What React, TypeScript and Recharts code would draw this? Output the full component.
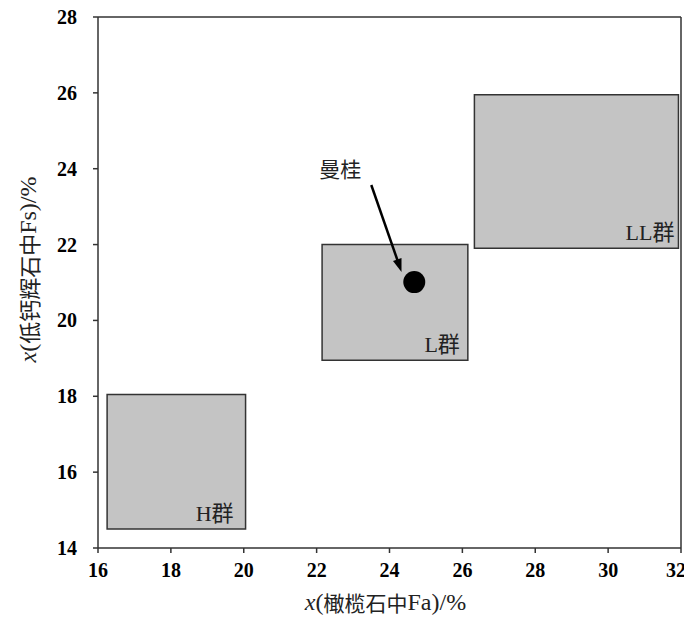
import React from "react";
import {
  ComposedChart,
  XAxis,
  YAxis,
  Scatter,
  ReferenceArea,
  ReferenceLine,
  Label,
} from "recharts";

// Data
const xTicks = [16, 18, 20, 22, 24, 26, 28, 30, 32];
const yTicks = [14, 16, 18, 20, 22, 24, 26, 28];
const groupNames = ["H群", "L群", "LL群"];
const groupFaMin = [16.25, 22.15, 26.33];
const groupFaMax = [20.05, 26.15, 31.93];
const groupFsMin = [14.5, 18.95, 21.9];
const groupFsMax = [18.05, 22.0, 25.95];
const meteoriteName = "曼桂";
const meteoritePoint = [{ fa: 24.68, fs: 21.01 }];
const arrowStart = { x: 23.5, y: 23.57 };
const arrowEnd = { x: 24.33, y: 21.28 };
const labelPos = { x: 22.65, y: 24.02 };

const serif = "'Liberation Serif', 'Noto Sans CJK SC', serif";
const cjk = "'Noto Sans CJK SC', serif";
const labelInset = [12, 8, 4];

const Arrow = (props: any) => {
  const { x1, y1, x2, y2 } = props;
  const dx = x2 - x1;
  const dy = y2 - y1;
  const len = Math.sqrt(dx * dx + dy * dy) || 1;
  const ux = dx / len;
  const uy = dy / len;
  const hl = 13;
  const hw = 4.5;
  const bx = x2 - ux * hl;
  const by = y2 - uy * hl;
  const px = -uy;
  const py = ux;
  return (
    <g>
      <line x1={x1} y1={y1} x2={bx + ux * 2} y2={by + uy * 2} stroke="#000" strokeWidth={2.5} />
      <polygon
        points={`${x2},${y2} ${bx + px * hw},${by + py * hw} ${bx - px * hw},${by - py * hw}`}
        fill="#000"
      />
    </g>
  );
};

const lastX = xTicks[xTicks.length - 1];

const XTick = (p: any) => {
  const isLast = p.payload.value === lastX;
  return (
    <text
      x={isLast ? p.x + 5 : p.x}
      y={p.y + 22}
      textAnchor={isLast ? "end" : "middle"}
      style={{ fontFamily: serif, fontWeight: 700, fontSize: 20 }}
      fill="#000"
    >
      {p.payload.value}
    </text>
  );
};

const YTick = (p: any) => (
  <text
    x={p.x - 14}
    y={p.y + 7}
    textAnchor="end"
    style={{ fontFamily: serif, fontWeight: 700, fontSize: 20 }}
    fill="#000"
  >
    {p.payload.value}
  </text>
);

export default function App() {
  return (
    <div style={{ width: 684, height: 616, marginBottom: -8 }}>
      <ComposedChart
        width={684}
        height={616}
        margin={{ top: 9, right: 11, bottom: 26, left: 0 }}
      >
        <XAxis
          type="number"
          dataKey="fa"
          domain={[16, 32]}
          ticks={xTicks}
          allowDataOverflow
          height={50}
          tickSize={5}
          axisLine={{ stroke: "#333", strokeWidth: 1.5 }}
          tickLine={{ stroke: "#333", strokeWidth: 1.5 }}
          tick={<XTick />}
        >
          <Label
            content={(p: any) => {
              const vb = p.viewBox;
              return (
                <text
                  x={vb.x + vb.width / 2 - 4}
                  y={vb.y + 54}
                  textAnchor="middle"
                  dominantBaseline="central"
                  style={{ fontFamily: serif, fontSize: 24 }}
                  fill="#222"
                >
                  <tspan fontStyle="italic">x</tspan>
                  <tspan>(</tspan>
                  <tspan style={{ fontFamily: cjk, fontSize: 21 }}>橄榄石中</tspan>
                  <tspan>Fa)/%</tspan>
                </text>
              );
            }}
          />
        </XAxis>
        <YAxis
          type="number"
          dataKey="fs"
          domain={[14, 28]}
          ticks={yTicks}
          allowDataOverflow
          width={90}
          tickSize={5}
          axisLine={{ stroke: "#333", strokeWidth: 1.5 }}
          tickLine={{ stroke: "#333", strokeWidth: 1.5 }}
          tick={<YTick />}
        >
          <Label
            content={(p: any) => {
              const vb = p.viewBox;
              const cx = 20;
              const cy = vb.y + vb.height / 2 - 13;
              return (
                <text
                  x={cx}
                  y={cy}
                  textAnchor="middle"
                  dominantBaseline="central"
                  style={{ fontFamily: serif, fontSize: 24 }}
                  fill="#222"
                  transform={`rotate(-90 ${cx} ${cy})`}
                >
                  <tspan fontStyle="italic">x</tspan>
                  <tspan>(</tspan>
                  <tspan style={{ fontFamily: cjk, fontSize: 22 }}>低钙辉石中</tspan>
                  <tspan>Fs)/%</tspan>
                </text>
              );
            }}
          />
        </YAxis>
        <ReferenceLine y={28} stroke="#333" strokeWidth={1.5} ifOverflow="visible" />
        <ReferenceLine x={32} stroke="#333" strokeWidth={1.5} ifOverflow="visible" />
        {groupNames.map((name, i) => (
          <ReferenceArea
            key={name}
            x1={groupFaMin[i]}
            x2={groupFaMax[i]}
            y1={groupFsMin[i]}
            y2={groupFsMax[i]}
            fill="#c4c4c4"
            fillOpacity={1}
            stroke="#333"
            strokeWidth={1.5}
            ifOverflow="visible"
            label={(p: any) => {
              const vb = p.viewBox;
              return (
                <text
                  x={vb.x + vb.width - labelInset[i]}
                  y={vb.y + vb.height - 8}
                  textAnchor="end"
                  style={{ fontFamily: serif, fontSize: 22 }}
                  fill="#222"
                >
                  {name}
                </text>
              );
            }}
          />
        ))}
        <ReferenceLine
          segment={[arrowStart, arrowEnd]}
          ifOverflow="visible"
          shape={(p: any) => <Arrow {...p} />}
        />
        <ReferenceLine
          segment={[labelPos, labelPos]}
          ifOverflow="visible"
          shape={(p: any) => (
            <text
              x={p.x1}
              y={p.y1}
              textAnchor="middle"
              dominantBaseline="central"
              style={{ fontFamily: cjk, fontSize: 21 }}
              fill="#222"
            >
              {meteoriteName}
            </text>
          )}
        />
        <Scatter
          data={meteoritePoint}
          fill="#000"
          isAnimationActive={false}
          shape={(p: any) => <circle cx={p.cx} cy={p.cy} r={11} fill="#000" />}
        />
      </ComposedChart>
    </div>
  );
}
